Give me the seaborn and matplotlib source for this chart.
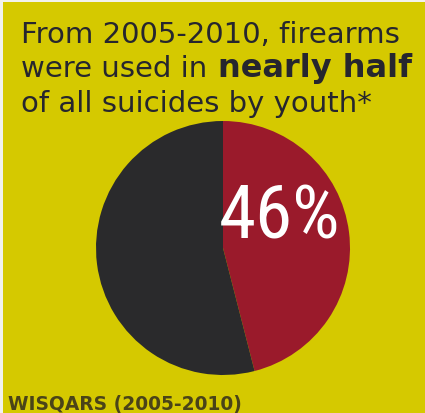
"""
Youth suicide infographic: share of suicides by firearm, 2005-2010.

Output:
    out.png
"""

import matplotlib.pyplot as plt
import seaborn as sns
from matplotlib import font_manager

# data
segment_labels = ["Firearms", "Other methods"]
segment_shares = [46, 54]
headline_label = "46%"
title_lines = ["From 2005-2010, firearms", "were used in ", "of all suicides by youth*"]
title_bold = "nearly half"
source_text = "WISQARS (2005-2010)"

YELLOW = "#d5c900"
RED = "#9a1a2b"
DARK = "#2a2a2c"
TEXT = "#26262e"

W, H = 425, 414
DPI = 100

sns.set_theme(style="white")
plt.rcParams["font.family"] = ["DejaVu Sans"]

# look for a narrow face for the big number, fall back to a light one
names = {f.name for f in font_manager.fontManager.ttflist}
narrow = [n for n in ("Liberation Sans Narrow", "DejaVu Sans Condensed",
                      "Roboto Condensed", "Open Sans Condensed") if n in names]

fig = plt.figure(figsize=(W / DPI, H / DPI), dpi=DPI, facecolor="#f2f2ee")

# yellow panel, leaving a thin light strip at top and left like the scan
bg = fig.add_axes([3 / W, 0, 1 - 3 / W, 1 - 3 / H])
bg.set_facecolor(YELLOW)
bg.set_xticks([])
bg.set_yticks([])
for s in bg.spines.values():
    s.set_visible(False)

# pie: circle centre (223, 249) px, radius ~127 px
cx, cy, r = 223, 249, 127
ax = fig.add_axes([(cx - r) / W, 1 - (cy + r) / H, 2 * r / W, 2 * r / H])
ax.pie(
    segment_shares,
    labels=None,
    colors=[RED, DARK],
    startangle=90,
    counterclock=False,
    radius=1.0,
    wedgeprops={"linewidth": 0},
)
ax.set_xlim(-1, 1)
ax.set_ylim(-1, 1)
ax.set_aspect("auto")
ax.axis("off")

if narrow:
    num_kw = dict(family=[narrow[0], "DejaVu Sans"], fontsize=54)
else:
    num_kw = dict(family=["Roboto", "DejaVu Sans"], fontweight="light", fontsize=48)
fig.text(280 / W, 1 - 218 / H, headline_label, color="white",
         ha="center", va="center", **num_kw)

# title
fs = 21
x0 = 21 / W
base = [42.5, 77, 111.5]
fig.text(x0, 1 - base[0] / H, title_lines[0], fontsize=fs, color=TEXT, va="baseline")
fig.text(x0, 1 - base[1] / H, title_lines[1], fontsize=fs, color=TEXT, va="baseline")
fig.text(218 / W, 1 - base[1] / H, title_bold, fontsize=23, fontweight="bold",
         color=TEXT, va="baseline")
fig.text(x0, 1 - base[2] / H, title_lines[2], fontsize=fs, color=TEXT, va="baseline")

fig.text(8 / W, 1 - 410 / H, source_text, fontsize=13.4, fontweight="bold",
         color="#4a4418", va="baseline")

fig.savefig("out.png", dpi=DPI, facecolor=fig.get_facecolor())
plt.close(fig)
